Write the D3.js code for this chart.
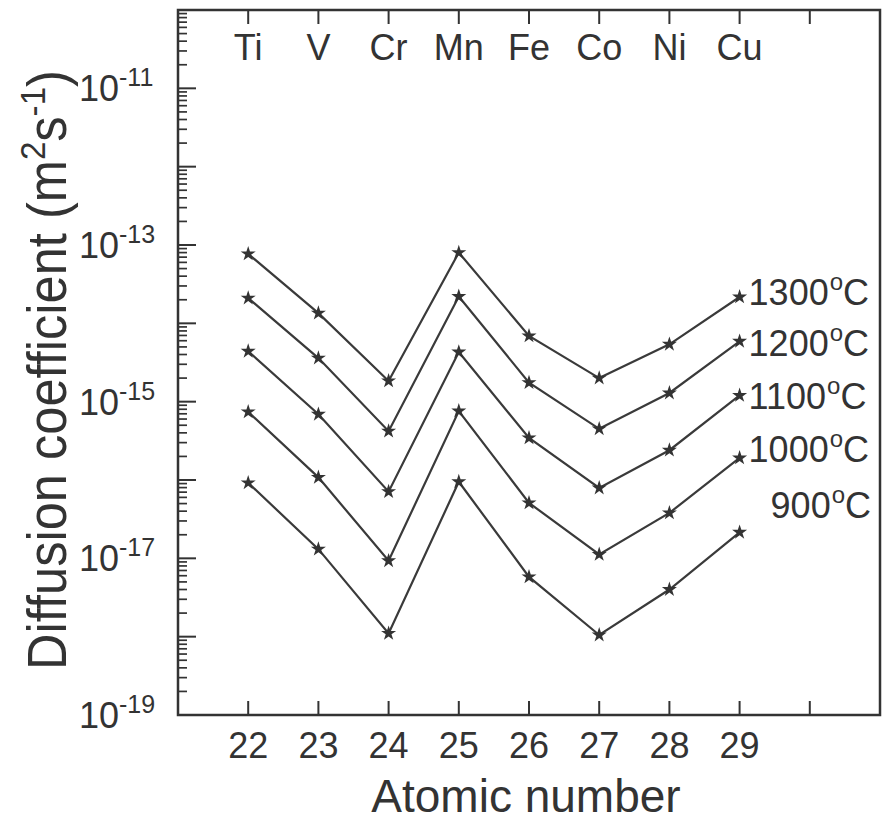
<!DOCTYPE html>
<html><head><meta charset="utf-8">
<script src="https://cdn.jsdelivr.net/npm/d3@7/dist/d3.min.js"></script>
<style>
body{margin:0;background:#fff;}
text{font-family:"Liberation Sans",Arial,Helvetica,sans-serif;fill:#333;}
</style></head>
<body><svg id="c" width="893" height="834"></svg>
<script>
const atomicNumbers = [22, 23, 24, 25, 26, 27, 28, 29];
const elements = ["Ti", "V", "Cr", "Mn", "Fe", "Co", "Ni", "Cu"];
const temperatures = ["1300", "1200", "1100", "1000", "900"];
const d1300 = [7.7e-14, 1.35e-14, 1.84e-15, 8.0e-14, 6.9e-15, 2.0e-15, 5.4e-15, 2.17e-14];
const d1200 = [2.1e-14, 3.6e-15, 4.2e-16, 2.2e-14, 1.75e-15, 4.5e-16, 1.29e-15, 5.9e-15];
const d1100 = [4.4e-15, 6.9e-16, 7.1e-17, 4.3e-15, 3.45e-16, 7.9e-17, 2.4e-16, 1.2e-15];
const d1000 = [7.4e-16, 1.08e-16, 9.3e-18, 7.6e-16, 5.1e-17, 1.12e-17, 3.8e-17, 1.91e-16];
const d900  = [9.2e-17, 1.31e-17, 1.1e-18, 9.5e-17, 5.8e-18, 1.05e-18, 4.0e-18, 2.15e-17];
const seriesValues = [d1300, d1200, d1100, d1000, d900];
const xTicks = [22, 23, 24, 25, 26, 27, 28, 29, 30];
const yLabelExponents = [-11, -13, -15, -17, -19];

const svg = d3.select("#c");
const L = 178, R = 880, T = 10, B = 715;
const x = d3.scaleLinear().domain([21, 31]).range([L, R]);
const y = d3.scaleLog().domain([1e-19, 1e-10]).range([B, T]);
const ink = "#333";

// minor/major y ticks
const g = svg.append("g");
for (let e = -19; e <= -10; e++) {
  const v = Math.pow(10, e);
  g.append("line").attr("x1", L).attr("x2", L + 18).attr("y1", y(v)).attr("y2", y(v))
    .attr("stroke", ink).attr("stroke-width", 2);
  if (e < -10) {
    for (let k = 2; k <= 9; k++) {
      const yy = y(k * v);
      g.append("line").attr("x1", L).attr("x2", L + 9).attr("y1", yy).attr("y2", yy)
        .attr("stroke", ink).attr("stroke-width", 1.7);
    }
  }
}
// y tick labels
yLabelExponents.forEach(e => {
  const t = svg.append("text").attr("x", 79).attr("y", y(Math.pow(10, e)) + 13)
    .attr("font-size", 36);
  t.append("tspan").text("10");
  t.append("tspan").attr("font-size", 25).attr("dy", -15).text(String(e));
});

// top & bottom ticks
xTicks.forEach(v => {
  g.append("line").attr("x1", x(v)).attr("x2", x(v)).attr("y1", T).attr("y2", T + 14)
    .attr("stroke", ink).attr("stroke-width", 2);
  g.append("line").attr("x1", x(v)).attr("x2", x(v)).attr("y1", B).attr("y2", B - 14)
    .attr("stroke", ink).attr("stroke-width", 2);
});
// frame
svg.append("rect").attr("x", L).attr("y", T).attr("width", R - L).attr("height", B - T)
  .attr("fill", "none").attr("stroke", ink).attr("stroke-width", 2.5);

// x labels
svg.selectAll(".xl").data(atomicNumbers).enter().append("text")
  .attr("x", d => x(d)).attr("y", 758).attr("text-anchor", "middle")
  .attr("font-size", 36).text(d => d);
svg.selectAll(".el").data(elements).enter().append("text")
  .attr("x", (d, i) => x(atomicNumbers[i])).attr("y", 60).attr("text-anchor", "middle")
  .attr("font-size", 36).text(d => d);

// axis titles
svg.append("text").attr("x", 526).attr("y", 812).attr("text-anchor", "middle")
  .attr("font-size", 46).text("Atomic number");
const yt = svg.append("text").attr("transform", "translate(66,370) rotate(-90) scale(0.92,1)")
  .attr("text-anchor", "middle").attr("font-size", 55);
yt.append("tspan").text("Diffusion coefficient (m");
yt.append("tspan").attr("font-size", 36).attr("dy", -21).text("2");
yt.append("tspan").attr("dy", 21).text("s");
yt.append("tspan").attr("font-size", 36).attr("dy", -21).text("-1");
yt.append("tspan").attr("dy", 21).text(")");

// series
const line = d3.line().x((d, i) => x(atomicNumbers[i])).y(d => y(d));
const star = d3.symbol().type(d3.symbolStar).size(70);
seriesValues.forEach((vals, si) => {
  svg.append("path").attr("d", line(vals)).attr("fill", "none")
    .attr("stroke", "#3a3a3a").attr("stroke-width", 2.2);
  svg.selectAll(".m" + si).data(vals).enter().append("path")
    .attr("d", star)
    .attr("transform", (d, i) => `translate(${x(atomicNumbers[i])},${y(d)})`)
    .attr("fill", "#333");
});

// series labels
const labelDx = [9, 9, 9, 9, 31];
const labelDy = [8, 15, 14, 4, -14];
temperatures.forEach((t, si) => {
  const vals = seriesValues[si];
  const tx = svg.append("text")
    .attr("x", x(29) + labelDx[si]).attr("y", y(vals[vals.length - 1]) + labelDy[si])
    .attr("font-size", 36);
  tx.append("tspan").text(t);
  tx.append("tspan").attr("font-size", 24).attr("dx", 1).attr("dy", -15).text("o");
  tx.append("tspan").attr("dy", 15).text("C");
});
</script></body></html>
